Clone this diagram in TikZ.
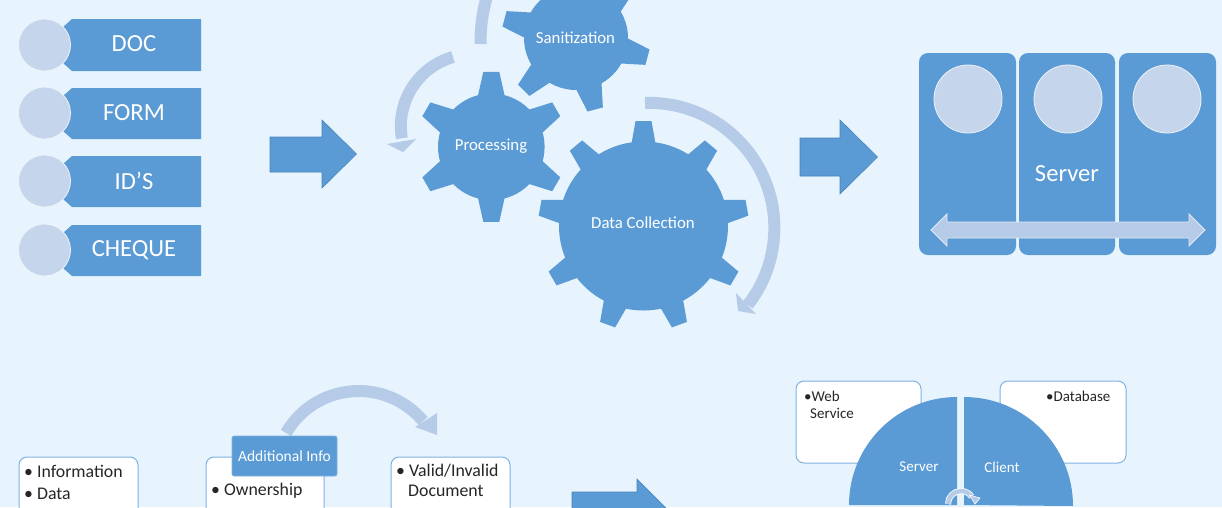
\documentclass[tikz,border=0pt]{standalone}
\usepackage{fontspec}
\usepackage{color}
\setmainfont{Carlito}
\definecolor{pagebg}{HTML}{E7F4FE}
\definecolor{mainblue}{HTML}{5B9BD5}
\definecolor{edgeblue}{HTML}{4A83B8}
\definecolor{paleblue}{HTML}{C5D5EB}
\definecolor{sweepblue}{HTML}{B6CBE7}
\definecolor{boxline}{HTML}{7FB2E2}
\newcommand{\gearshape}[6]{
  \fill[mainblue] (#1) circle (#2);
  \foreach \a in {#6} {
    \fill[mainblue,shift={(#1)},rotate=\a] (#2-2,-#4) -- (#3,-#5) -- (#3,#5) -- (#2-2,#4) -- cycle;
  }
}
\begin{document}
\begin{tikzpicture}[x=1pt,y=1pt,
  banner/.style = {fill=mainblue},
  badge/.style = {circle,draw=white!70!paleblue,line width=.8pt,fill=paleblue,inner sep=0pt,minimum size=52pt},
  bigdot/.style = {circle,draw=white!70!paleblue,line width=.8pt,fill=paleblue,inner sep=0pt,minimum size=68pt},
  bigtext/.style = {text=white,font=\fontsize{24.6}{28}\selectfont},
  geartext/.style = {text=white,font=\fontsize{16.8}{19}\selectfont},
  smalltext/.style = {text=white,font=\fontsize{15}{18}\selectfont},
  listtext/.style = {anchor=west,text=black!85,inner sep=0pt,font=\fontsize{17.8}{20}\selectfont},
  webtext/.style = {anchor=west,text=black!85,inner sep=0pt,font=\fontsize{15}{18}\selectfont},
  listbox/.style = {draw=boxline,line width=1pt,fill=white,rounded corners=8pt},
  blockarrow/.style = {fill=mainblue,draw=edgeblue,line width=.6pt},
  sweep/.style = {draw=sweepblue,line width=12pt},
  sweephead/.style = {fill=sweepblue},
  panel/.style = {fill=mainblue,rounded corners=9pt}]
\clip (0,0) rectangle (1222,-507);
\fill[pagebg] (0,0) rectangle (1222,-507);

% inputs
\fill[banner] (72,-19) -- (201,-19) -- (201,-71) -- (72,-71) -- (63,-63) -- (63,-27) -- cycle;
\fill[banner] (72,-88) -- (201,-88) -- (201,-139) -- (72,-139) -- (63,-131) -- (63,-96) -- cycle;
\fill[banner] (72,-156) -- (201,-156) -- (201,-207) -- (72,-207) -- (63,-199) -- (63,-164) -- cycle;
\fill[banner] (72,-225) -- (201,-225) -- (201,-276) -- (72,-276) -- (63,-268) -- (63,-233) -- cycle;
\node[badge] (c1) at (44.5,-45) {};
\node[badge] (c2) at (44.5,-113) {};
\node[badge] (c3) at (44.5,-181) {};
\node[badge] (c4) at (44.5,-250) {};
\node[bigtext] (doc) at (134,-44) {DOC};
\node[bigtext] (form) at (134,-113) {FORM};
\node[bigtext] (ids) at (134,-181) {ID’S};
\node[bigtext] (cheque) at (134,-250) {CHEQUE};

% block arrows
\draw[blockarrow] (270,-137) -- (322,-137) -- (322,-120) -- (356.5,-154) -- (322,-188) -- (322,-172) -- (270,-172) -- cycle;
\draw[blockarrow] (800,-138) -- (840,-138) -- (840,-120) -- (877.5,-157) -- (840,-194) -- (840,-176) -- (800,-176) -- cycle;
\draw[blockarrow] (572,-492) -- (637,-492) -- (637,-479) -- (675,-517) -- (637,-555) -- (637,-528) -- (572,-528) -- cycle;

% gears
\gearshape{576,-38}{52}{74}{13}{8}{-15,-75,-135,165,105,45}
\gearshape{491.3,-146.8}{53.3}{75}{13.3}{8}{90,30,-30,-90,-150,150}
\gearshape{643.5,-226}{84.5}{105}{12}{8}{90,50,10,-30,-70,-110,-150,170,130}
\node[geartext] (san) at (575.5,-38) {Sanitization};
\node[geartext] (proc) at (491,-146) {Processing};
\node[geartext] (coll) at (643,-222.5) {Data Collection};

% sweeps round the gears
\draw[sweep] (480.5,-44) .. controls (480.5,-28) and (482,-14) .. (487,4);
\draw[sweep] (453,-57) arc (106:189.6:72);
\fill[sweephead] (387,-144) -- (416,-139) -- (403,-152) -- cycle;
\draw[sweep] (645,-103) arc (92:-38:125);
\fill[sweephead] (736,-293) -- (756,-314) -- (738,-311) -- cycle;

% server
\fill[panel] (919,-53) rectangle (1016,-255);
\fill[panel] (1019,-53) rectangle (1115,-255);
\fill[panel] (1119,-53) rectangle (1216,-255);
\node[bigdot] (d1) at (968,-99) {};
\node[bigdot] (d2) at (1068,-99) {};
\node[bigdot] (d3) at (1167,-99) {};
\node[bigtext] (srv) at (1067,-174) {Server};
\draw[fill=sweepblue,draw=white!60!sweepblue,line width=.8pt] (931,-230) -- (947,-214) -- (947,-222) -- (1189,-222) -- (1189,-214) -- (1205,-230) -- (1189,-246) -- (1189,-238) -- (947,-238) -- (947,-246) -- cycle;

% lists
\draw[listbox] (19,-457) rectangle (138,-560);
\draw[listbox] (206,-457) rectangle (324,-560);
\draw[listbox] (391,-457) rectangle (510,-560);
\node[listtext] (l1) at (24,-471) {• Information};
\node[listtext] (l2) at (24,-494) {• Data};
\node[listtext] (l3) at (211,-491) {• Ownership};
\node[listtext] (l4) at (396,-471) {• Valid/Invalid};
\node[listtext] (l5) at (408,-491) {Document};
\draw[sweep] (286,-433) arc (150:40:84);
\fill[sweephead] (437,-413) -- (415,-427) -- (437,-435) -- cycle;
\node[smalltext,fill=mainblue,draw=boxline,line width=.6pt,rounded corners=2pt,minimum width=105pt,minimum height=40pt,inner sep=0pt,font=\fontsize{15.5}{18}\selectfont] (info) at (284.5,-456) {Additional Info};

% web and database
\draw[listbox] (796,-381) rectangle (921,-463);
\draw[listbox] (1000,-381) rectangle (1126,-463);
\node[webtext] (w1) at (804,-396.5) {•Web};
\node[webtext] (w2) at (810,-413.5) {Service};
\node[webtext] (w3) at (1046,-396.5) {•Database};
\fill[mainblue] (957,-505) -- (849,-505) arc (180:90:108) -- cycle;
\fill[mainblue] (964,-505) -- (964,-397) arc (90:0:109) -- cycle;
\node[smalltext] (s) at (919,-467) {Server};
\node[smalltext] (cl) at (1002,-467) {Client};
\draw[draw=white,line width=6pt] (948,-504) arc (180:35:13);
\draw[draw=sweepblue,line width=4.4pt] (948,-504) arc (180:35:13);
\draw[fill=sweepblue,draw=white,line width=.6pt] (969.5,-495) -- (980,-498) -- (975,-504) -- cycle;
\end{tikzpicture}
\end{document}
